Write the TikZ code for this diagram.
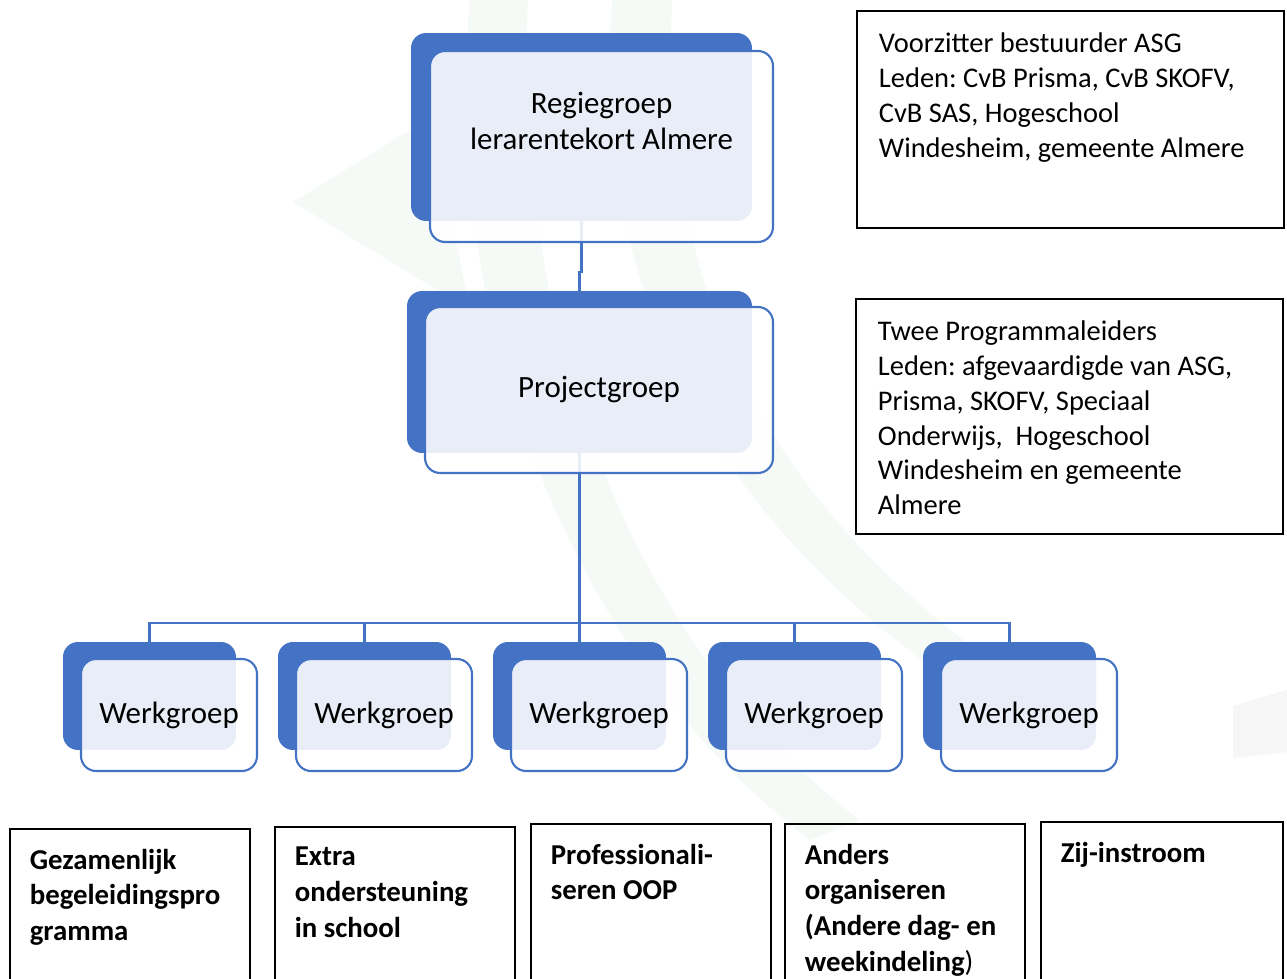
\documentclass[tikz,border=0pt]{standalone}
\usepackage{fontspec}
\setmainfont{Carlito}
\frenchspacing
\usetikzlibrary{backgrounds}
\definecolor{accent}{HTML}{4472C4}
\definecolor{wmgreen}{HTML}{F5FAF6}
\definecolor{wmgray}{HTML}{F6F6F6}

\begin{document}
\begin{tikzpicture}[x=0.02cm, y=-0.02cm,
                    back/.style={fill=accent, rounded corners=0.3cm, inner sep=0pt, outer sep=0pt},
                    front/.style={draw=accent, line width=1.2pt, fill=white, fill opacity=0.88,
                                  text opacity=1, rounded corners=0.3cm, inner sep=0pt, outer sep=0pt,
                                  align=center, font=\fontsize{17.6}{20.4}\selectfont},
                    link/.style={draw=accent, line width=1.5pt},
                    note/.style={draw=black, line width=1.1pt, anchor=north west, inner xsep=12.5pt,
                                 inner ysep=12.5pt, font=\fontsize{16.2}{19.8}\selectfont},
                    task/.style={note, inner sep=11.3pt, font=\bfseries\fontsize{16.4}{20.4}\selectfont}]

\useasboundingbox (0,0) rectangle (1287,979);

% blocks
\node[back, minimum width=6.82cm, minimum height=3.76cm] (regie-b) at (581.5,127) {};
\node[front, minimum width=6.86cm, minimum height=3.82cm] (regie) at (601.5,146.5)
     {Regiegroep\\lerarentekort Almere\\[9pt]\mbox{}};

\node[back, minimum width=6.9cm, minimum height=3.24cm] (proj-b) at (579.5,372) {};
\node[front, minimum width=6.96cm, minimum height=3.32cm] (proj) at (599,390) {Projectgroep};

\foreach \i in {0,...,4} {
  \node[back, minimum width=3.46cm, minimum height=2.16cm] (wg\i-b) at ({149.5+215*\i},696) {};
  \node[front, minimum width=3.52cm, minimum height=2.24cm] (wg\i) at ({169+215*\i},715) {Werkgroep};
}

% notes on the right
\node[note] (regie-note) at (856,10)
     {\parbox[c][98.6pt][t]{217.8pt}{\raggedright Voorzitter bestuurder ASG\\Leden: CvB Prisma, CvB SKOFV,\\CvB SAS, Hogeschool\\Windesheim, gemeente Almere}};
\node[note] (proj-note) at (855,298)
     {\parbox[c][108.8pt][t]{218.2pt}{\raggedright Twee Programmaleiders\\Leden: afgevaardigde van ASG,\\Prisma, SKOFV, Speciaal\\Onderwijs, \ Hogeschool\\Windesheim en gemeente\\Almere}};

% themes of the werkgroepen
\node[task] (gezamenlijk) at (9,828)
     {\parbox[c][76.6pt][t]{114pt}{\raggedright Gezamenlijk\\begeleidingspro\\gramma}};
\node[task] (extra) at (274,826)
     {\parbox[c][76.6pt][t]{114pt}{\raggedright Extra\\ondersteuning\\in school}};
\node[task] (profes) at (530,823)
     {\parbox[c][76.6pt][t]{114pt}{\raggedright Professionali-\\seren OOP}};
\node[task] (anders) at (784,823)
     {\parbox[c][76.6pt][t]{114pt}{\raggedright Anders\\organiseren\\(Andere dag- en\\weekindeling{\mdseries)}}};
\node[task] (zijinstroom) at (1040,821)
     {\parbox[c][76.6pt][t]{115pt}{\raggedright Zij-instroom}};

\begin{scope}[on background layer]
  \fill[white] (0,0) rectangle (1287,979);
  % faint watermark
  \fill[wmgreen] (293,202) -- (430,118) -- (470,310) -- cycle;
  \fill[wmgreen] (470,0) .. controls (440,300) and (560,650) .. (810,840)
                 -- (860,820) .. controls (620,640) and (510,300) .. (528,0) -- cycle;
  \fill[wmgreen] (612,0) .. controls (590,300) and (720,520) .. (950,680)
                 -- (990,660) .. controls (770,500) and (660,300) .. (672,0) -- cycle;
  \fill[wmgray] (1233,706) -- (1287,690) -- (1287,752) -- (1233,758) -- cycle;
  % connectors
  \draw[link] (regie-b.south) -- ++(0,51) -| (proj-b.north);
  \foreach \i in {0,...,4}
    \draw[link] (proj-b.south) -- ++(0,170) -| (wg\i-b.north);
\end{scope}
\end{tikzpicture}
\end{document}
